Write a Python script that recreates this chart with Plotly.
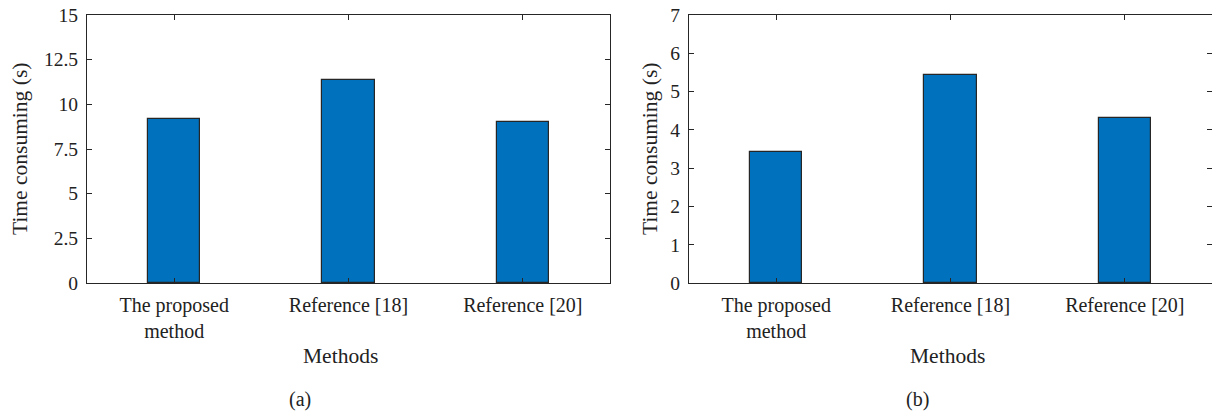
import plotly.graph_objects as go

methods = ["The proposed<br>method", "Reference [18]", "Reference [20]"]
time_a = [9.2, 11.35, 9.03]
time_b = [3.42, 5.43, 4.32]
yticks_a = [0, 2.5, 5, 7.5, 10, 12.5, 15]
yticks_b = [0, 1, 2, 3, 4, 5, 6, 7]

W, H = 1212, 411
FONT = "Liberation Serif"
AX = "#262626"
BAR = "#0072BD"
TXT = "#222222"

fig = go.Figure()
xs = [1, 2, 3]
fig.add_trace(go.Bar(x=xs, y=time_a, width=0.3, marker=dict(color=BAR, line=dict(color=AX, width=1.2)),
                     xaxis="x", yaxis="y", showlegend=False, hoverinfo="skip"))
fig.add_trace(go.Bar(x=xs, y=time_b, width=0.3, marker=dict(color=BAR, line=dict(color=AX, width=1.2)),
                     xaxis="x2", yaxis="y2", showlegend=False, hoverinfo="skip"))

def px(x):
    return x / W

def py(y):
    return 1 - y / H

ydom = [py(283), py(15)]
common_x = dict(range=[0.5, 3.5], tickmode="array", tickvals=xs, ticktext=methods,
                ticks="inside", ticklen=5, tickcolor=AX, showline=True, linecolor=AX, linewidth=1.2,
                mirror="ticks", showgrid=False, zeroline=False, automargin=False,
                ticklabelstandoff=4,
                tickfont=dict(family=FONT, size=20, color=TXT))
common_y = dict(ticks="inside", ticklen=5, tickcolor=AX, showline=True, linecolor=AX, linewidth=1.2,
                mirror="ticks", showgrid=False, zeroline=False, domain=ydom, automargin=False,
                ticklabelstandoff=4,
                tickfont=dict(family=FONT, size=19.5, color=TXT))

fig.update_layout(
    template="none",
    width=W, height=H, margin=dict(l=0, r=0, t=0, b=0, pad=0),
    paper_bgcolor="white", plot_bgcolor="white", bargap=0,
    xaxis=dict(common_x, domain=[px(87), px(610)], anchor="y"),
    yaxis=dict(common_y, range=[0, 15], tickmode="array", tickvals=yticks_a,
               ticktext=[f"{v:g}" for v in yticks_a], anchor="x"),
    xaxis2=dict(common_x, domain=[px(689), 1.0], anchor="y2"),
    yaxis2=dict(common_y, range=[0, 7], tickmode="array", tickvals=yticks_b,
                ticktext=[str(v) for v in yticks_b], anchor="x2"),
)

ann_font = dict(family=FONT, size=21.5, color=TXT)
anns = [
    dict(text="Time consuming (s)", x=px(20), y=py(149), textangle=-90),
    dict(text="Time consuming (s)", x=px(650), y=py(149), textangle=-90),
    dict(text="Methods", x=px(340), y=py(356)),
    dict(text="Methods", x=px(947), y=py(356)),
    dict(text="(a)", x=px(300), y=py(399), font=dict(family=FONT, size=20, color=TXT)),
    dict(text="(b)", x=px(917), y=py(399), font=dict(family=FONT, size=20, color=TXT)),
]
for a in anns:
    a.setdefault("font", ann_font)
    fig.add_annotation(xref="paper", yref="paper", showarrow=False, xanchor="center", yanchor="middle", **a)

fig.write_html("out.html", config={"displayModeBar": False},
               post_script="document.body.style.margin='0';document.body.style.overflow='hidden';")
